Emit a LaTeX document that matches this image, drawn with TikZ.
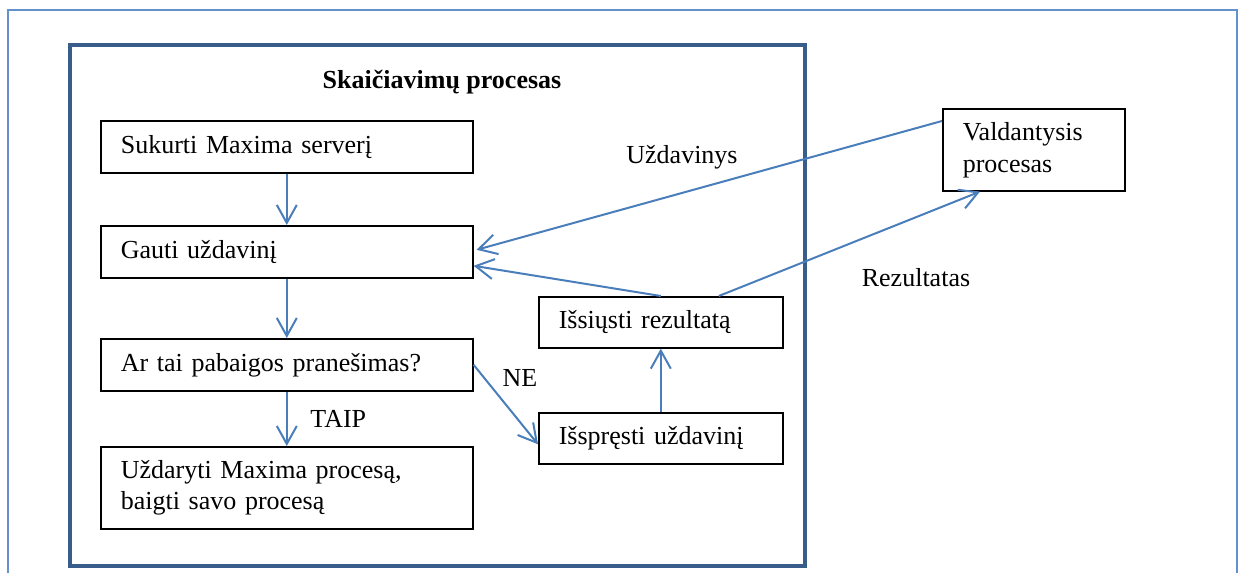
\documentclass[tikz,border=0pt]{standalone}
\usepackage{fontspec}
\setmainfont{Liberation Serif}
\usetikzlibrary{arrows.meta}
\definecolor{frameblue}{RGB}{100,145,205}
\definecolor{darkblue}{RGB}{56,93,138}
\definecolor{arrowblue}{RGB}{74,126,187}

\begin{document}
\begin{tikzpicture}[x=0.5pt,y=-0.5pt,
    box/.style={draw,line width=0.8pt,anchor=north west,align=left,inner xsep=10pt,
        text width=#1,font=\fontsize{13}{15.5}\selectfont},
    box/.default=166pt,
    arr/.style={arrowblue,line width=1pt,-{Straight Barb[length=9pt,width=10pt]}},
    lbl/.style={text=black,font=\fontsize{13}{15.5}\selectfont}]
    \useasboundingbox (0,0) rectangle (1238,573);
    \draw[frameblue,line width=1pt] (8,600) -- (8,10) -- (1237,10) -- (1237,600);
    \draw[darkblue,line width=2.3pt] (70,45) rectangle (805,566);
    \node[lbl,font=\fontsize{13}{15.5}\selectfont\bfseries] (title) at (442,82) {Skaičiavimų procesas};
    \node[box,minimum height=26pt] (sukurti) at (100,120) {Sukurti Maxima serverį};
    \node[box,minimum height=26pt] (gauti) at (100,225) {Gauti uždavinį};
    \node[box,minimum height=26pt] (artai) at (100,338) {Ar tai pabaigos pranešimas?};
    \node[box,minimum height=41pt] (uzdaryti) at (100,446) {Uždaryti Maxima procesą,\\baigti savo procesą};
    \node[box=102pt,minimum height=25.5pt] (issiusti) at (538,296) {Išsiųsti rezultatą};
    \node[box=102pt,minimum height=25.5pt] (isspresti) at (538,412) {Išspręsti uždavinį};
    \node[box=71pt,minimum height=41pt,font=\fontsize{13}{16}\selectfont] (valdantysis) at (942,108) {Valdantysis\\procesas};
    \draw[arr] (sukurti) -- (gauti);
    \draw[arr] (gauti) -- (artai);
    \draw[arr] (artai) -- (uzdaryti) node[lbl,midway,right=8pt] (taip) {TAIP};
    \draw[arr] (artai.east) -- ([yshift=-3pt]isspresti.west);
    \node[lbl] (ne) at (520,378) {NE};
    \draw[arr] (isspresti) -- (issiusti);
    \draw[arr] (issiusti.north) -- ([yshift=-7pt]gauti.east);
    \draw[arr] ([yshift=-6.5pt]valdantysis.north west) -- ([xshift=1.5pt,yshift=1pt]gauti.east);
    \draw[arr] ([xshift=29pt]issiusti.north) -- ([xshift=19pt]valdantysis.south west);
    \node[lbl] (uzdavinys) at (682,157) {Uždavinys};
    \node[lbl] (rezultatas) at (916,278) {Rezultatas};
\end{tikzpicture}
\end{document}
